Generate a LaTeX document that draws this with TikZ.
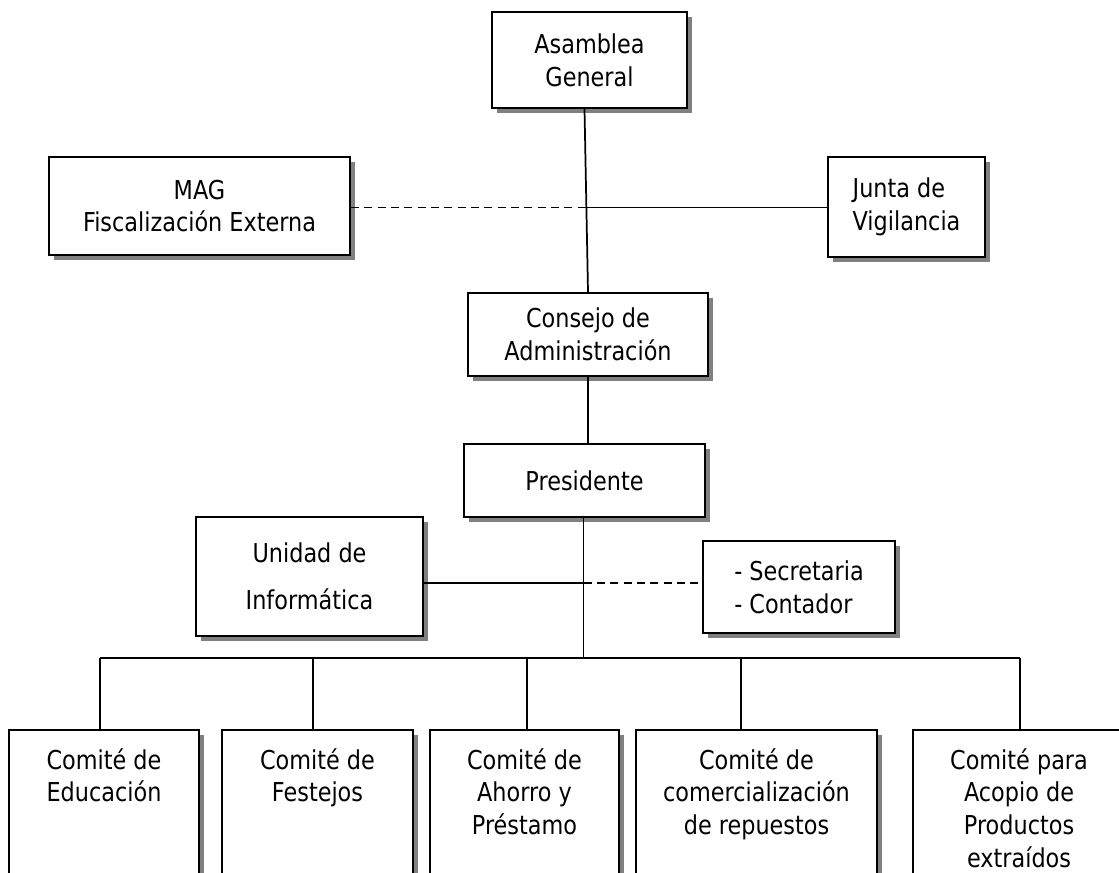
\documentclass[tikz,border=0pt]{standalone}
\usepackage{fontspec}
\setmainfont{DejaVu Sans}[FakeStretch=0.86]
\usetikzlibrary{shadows}

\tikzset{
  orgbox/.style={draw, line width=1.6pt, fill=white, inner sep=0pt, align=center,
    drop shadow={shadow xshift=3.75pt, shadow yshift=-3.75pt, opacity=1, fill=black!50},
    font=\fontsize{19.5pt}{24.5pt}\selectfont},
  boxtext/.style={align=center, inner sep=0pt, anchor=north,
    font=\fontsize{19.5pt}{24.5pt}\selectfont},
  link/.style={line width=1.3pt},
  dlink/.style={line width=1.3pt, dash pattern=on 6pt off 4pt}
}

\begin{document}
\begin{tikzpicture}[x=0.75pt, y=-0.75pt]
\useasboundingbox (0,0) rectangle (1119,873);
\clip (0,0) rectangle (1119,873);

% upper levels
\node [orgbox, minimum width=146.25pt, minimum height=72pt] (asamblea) at (589.5,60) {Asamblea\\General};
\node [orgbox, minimum width=225.75pt, minimum height=73.5pt] (mag) at (199.5,206) {MAG\\Fiscalización Externa};
\node [orgbox, minimum width=117.75pt, minimum height=75pt, align=left] (junta) at (906.5,207) {Junta de\\Vigilancia};
\node [orgbox, minimum width=180pt, minimum height=62.25pt] (consejo) at (588,334.5) {Consejo de\\Administración};
\node [orgbox, minimum width=180.75pt, minimum height=54.75pt] (presidente) at (584.5,480.5) {Presidente};

% staff units
\node [orgbox, minimum width=170.25pt, minimum height=89.25pt,
  font=\fontsize{19.5pt}{35pt}\selectfont] (unidad) at (309.5,576.5) {Unidad de\\Informática};
\node [orgbox, minimum width=144pt, minimum height=69pt, align=left] (secretaria) at (799,587) {- Secretaria\\- Contador};

% committees
\node [orgbox, minimum width=142.5pt, minimum height=150pt, anchor=north] (educacion) at (104,729) {};
\node [orgbox, minimum width=143.25pt, minimum height=150pt, anchor=north] (festejos) at (317.5,729) {};
\node [orgbox, minimum width=141.75pt, minimum height=150pt, anchor=north] (ahorro) at (524.5,729) {};
\node [orgbox, minimum width=180.75pt, minimum height=150pt, anchor=north] (comercio) at (756.5,729) {};
\node [orgbox, minimum width=159pt, minimum height=150pt, anchor=north] (acopio) at (1019,729) {};

\node [boxtext] (educacion-t) at (104,748) {Comité de\\Educación};
\node [boxtext] (festejos-t) at (317.5,748) {Comité de\\Festejos};
\node [boxtext] (ahorro-t) at (524.5,748) {Comité de\\Ahorro y\\Préstamo};
\node [boxtext] (comercio-t) at (756.5,748) {Comité de\\comercialización\\de repuestos};
\node [boxtext] (acopio-t) at (1019,748) {Comité para\\Acopio de\\Productos\\extraídos};

% line of authority
\draw [link] ([xshift=-3.75pt]asamblea.south) -- (consejo.north);
\coordinate (j1) at (586.5,207.5);
\draw [dlink] (mag.east |- j1) -- (j1);
\draw [link] (j1) -- (junta.west |- j1);
\draw [link] (consejo.south) -- (consejo.south |- presidente.north);

% staff
\coordinate (j2) at (583.5,583);
\coordinate (j3) at (583.5,658);
\draw [link] (j2 |- presidente.south) -- (j3);
\draw [link] (unidad.east |- j2) -- (j2);
\draw [dlink] (j2) -- (secretaria.west |- j2);

% committees bus
\coordinate (b1) at (100,658);
\coordinate (b2) at (313,658);
\coordinate (b3) at (527,658);
\coordinate (b4) at (741,658);
\coordinate (b5) at (1020,658);
\draw [link] (b1) -- (b5);
\foreach \b/\c in {b1/educacion, b2/festejos, b3/ahorro, b4/comercio, b5/acopio}
  \draw [link] (\b) -- (\b |- \c.north);
\end{tikzpicture}
\end{document}
